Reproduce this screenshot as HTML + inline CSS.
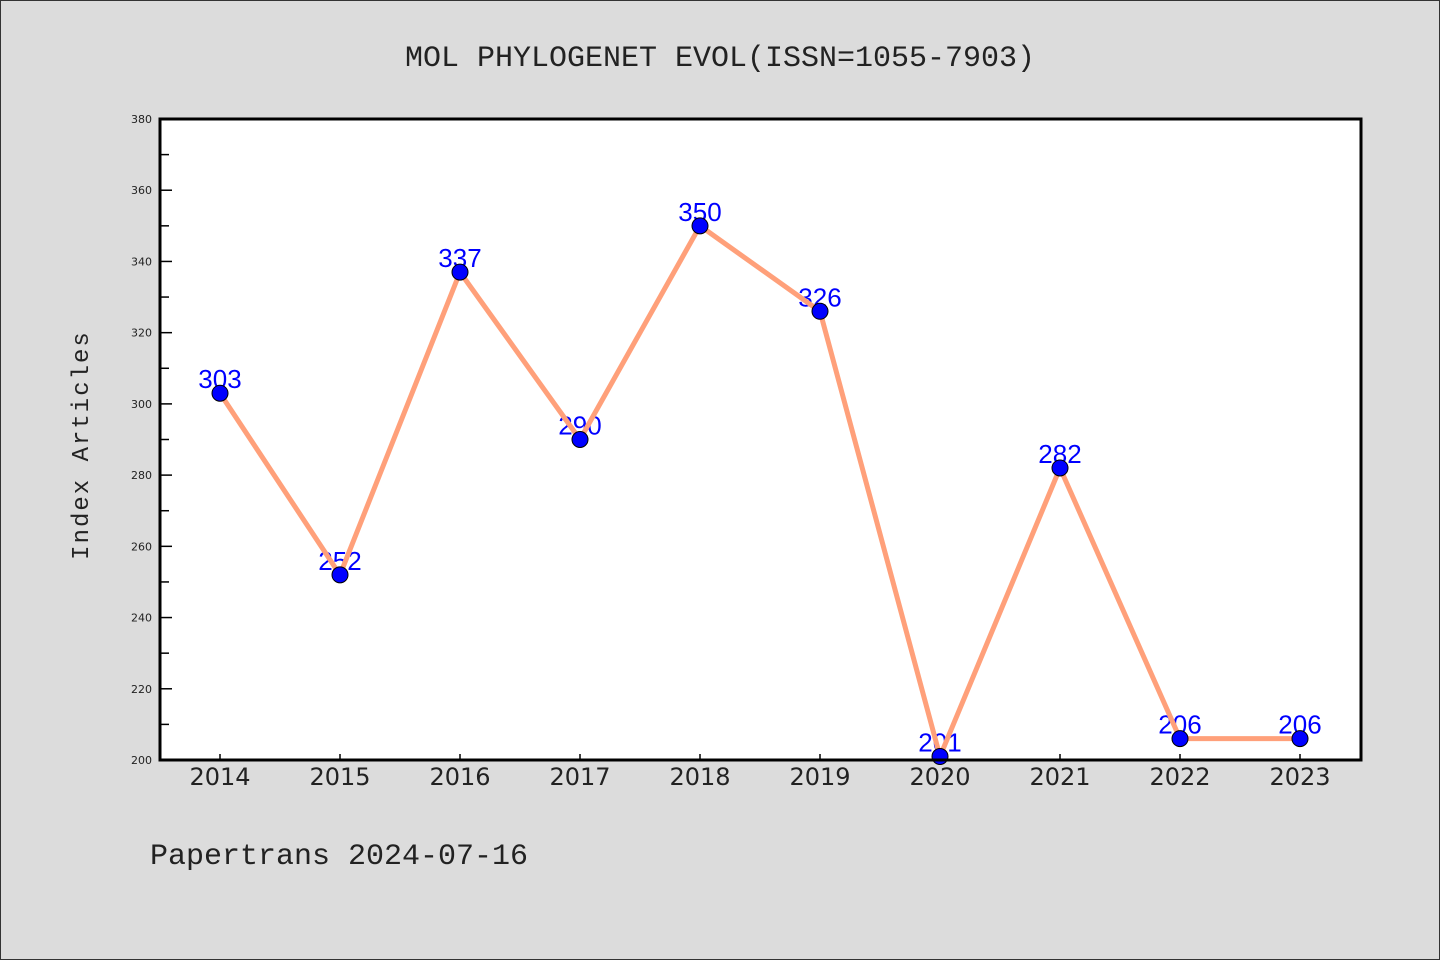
<!DOCTYPE html>
<html><head><meta charset="utf-8"><style>
body{margin:0;background:#dcdcdc;}
svg{display:block;font-family:"Liberation Mono","DejaVu Sans Mono",monospace;}
</style></head><body>
<svg id="chart" width="1440" height="960" xmlns="http://www.w3.org/2000/svg">
<rect x="0.5" y="0.5" width="1439" height="959" fill="#dcdcdc" stroke="#333" stroke-width="1"/>
<text x="720" y="66" font-size="30" text-anchor="middle" fill="#222">MOL PHYLOGENET EVOL(ISSN=1055-7903)</text>
<rect x="160" y="119" width="1201" height="641" fill="#fff"/>
<g id="grid"></g>
<g id="labels"></g>
<g id="series"></g>
<rect x="160" y="119" width="1201" height="641" fill="none" stroke="#000" stroke-width="3"/>
<text transform="translate(88,445) rotate(-90)" font-size="24" text-anchor="middle" fill="#222" letter-spacing="2">Index Articles</text>
<text x="150" y="864" font-size="30" fill="#222">Papertrans 2024-07-16</text>
</svg>
<script>
const categories=["2014","2015","2016","2017","2018","2019","2020","2021","2022","2023"];
const values=[303,252,337,290,350,326,201,282,206,206];
const yTicks=[200,220,240,260,280,300,320,340,360,380];
const yMin=200,yMax=380;
const X0=160,X1=1361,Y0=760,Y1=119;
const NS="http://www.w3.org/2000/svg";
function x(i){return 220+i*120;}
function y(v){return Y0-(v-yMin)/(yMax-yMin)*(Y0-Y1);}
function mk(tag,attrs,parent){const e=document.createElementNS(NS,tag);for(const k in attrs)e.setAttribute(k,attrs[k]);parent.appendChild(e);return e;}
const grid=document.getElementById('grid'),labels=document.getElementById('labels'),series=document.getElementById('series');
yTicks.forEach((t,i)=>{
  const l=mk('line',{x1:X0,x2:X0+12,y1:y(t),y2:y(t),stroke:'#000','stroke-width':1.5},grid);
  
  
  const tx=mk('text',{x:152,y:y(t)+4,'font-size':11,'text-anchor':'end',fill:'#222','font-family':'DejaVu Sans, sans-serif'},grid);
  tx.textContent=t;
  
  
  if(i<yTicks.length-1){
    const m=mk('line',{x1:X0,x2:X0+9,y1:y(t+10),y2:y(t+10),stroke:'#000','stroke-width':1.5},grid);
    
    
  }
});
categories.forEach((c,i)=>{
  const l=mk('line',{x1:x(i),x2:x(i),y1:Y0,y2:Y0-6,stroke:'#000','stroke-width':1.5},grid);
  
  
  const tx=mk('text',{x:x(i),y:785,'font-size':24,'text-anchor':'middle',fill:'#222','font-family':'DejaVu Sans, sans-serif'},grid);
  tx.textContent=c;
  
  
});
values.forEach((v,i)=>{
  const tx=mk('text',{x:x(i),y:y(v)-5,'font-size':26,'text-anchor':'middle',fill:'#0000ff','font-family':'Liberation Sans, sans-serif'},labels);
  tx.textContent=v;
  
  
});
const pl=mk('polyline',{points:values.map((v,i)=>x(i)+','+y(v)).join(' '),fill:'none',stroke:'#ffa07a','stroke-width':5,'stroke-linejoin':'round'},series);


values.forEach((v,i)=>{
  const c=mk('circle',{cx:x(i),cy:y(v),r:8,fill:'#0000ff',stroke:'#000','stroke-width':1},series);
  
  
});
</script>
</body></html>
